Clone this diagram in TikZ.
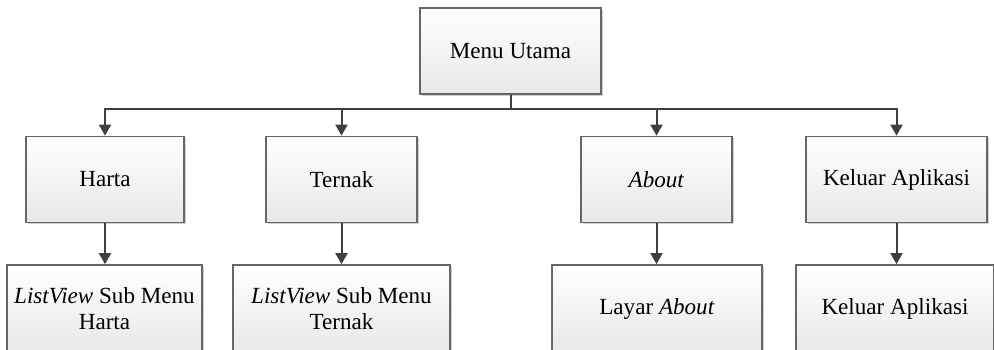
\documentclass[tikz,border=0pt]{standalone}
\usepackage{fontspec}
\setmainfont{Liberation Serif}
\usetikzlibrary{arrows.meta,shadows}
\definecolor{boxline}{HTML}{666666}
\definecolor{wire}{HTML}{404040}
\tikzset{
  menubox/.style={draw=boxline, line width=1.7pt, top color=white, bottom color=black!9,
    drop shadow={shadow xshift=1.8pt, shadow yshift=-1.8pt, fill=black!18, opacity=1},
    inner sep=0pt, align=center, minimum height=86pt,
    font=\fontsize{23.1}{26}\selectfont},
  link/.style={draw=wire, line width=2pt, -{Triangle[width=12pt,length=11pt]}},
}
\begin{document}
\begin{tikzpicture}[x=1pt,y=-1pt]
  \useasboundingbox (0,0) rectangle (994,349);
  \clip (0,0) rectangle (994,349);

  % root
  \node[menubox, minimum width=181pt] (menu) at (510.5,51) {Menu Utama};

  % first level
  \node[menubox, minimum width=158pt] (harta)  at (105,179.5)   {Harta};
  \node[menubox, minimum width=151pt] (ternak) at (341.5,179.5) {Ternak};
  \node[menubox, minimum width=151pt] (about)  at (656.5,179.5) {\textit{About}};
  \node[menubox, minimum width=181pt] (keluar) at (896.5,179.5) {Keluar Aplikasi};

  % second level
  \node[menubox, minimum width=195pt, minimum height=88pt] (lvharta)  at (104.5,309) {\textit{ListView} Sub Menu\\Harta};
  \node[menubox, minimum width=217pt, minimum height=88pt] (lvternak) at (341.5,309) {\textit{ListView} Sub Menu\\Ternak};
  \node[menubox, minimum width=210pt, minimum height=88pt] (layar)    at (657,309)   {Layar \textit{About}};
  \node[menubox, minimum width=198pt, minimum height=88pt] (exit)     at (895,309)   {Keluar Aplikasi};

  % branches from the main menu
  \draw[link] (menu.south) -- ++(0,14) -| (harta.north);
  \draw[link] (menu.south) -- ++(0,14) -| (ternak.north);
  \draw[link] (menu.south) -- ++(0,14) -| (about.north);
  \draw[link] (menu.south) -- ++(0,14) -| (keluar.north);

  % sub menus
  \draw[link] (harta.south)  -- (harta.south |- lvharta.north);
  \draw[link] (ternak.south) -- (ternak.south |- lvternak.north);
  \draw[link] (about.south)  -- (about.south |- layar.north);
  \draw[link] (keluar.south) -- (keluar.south |- exit.north);
\end{tikzpicture}
\end{document}
